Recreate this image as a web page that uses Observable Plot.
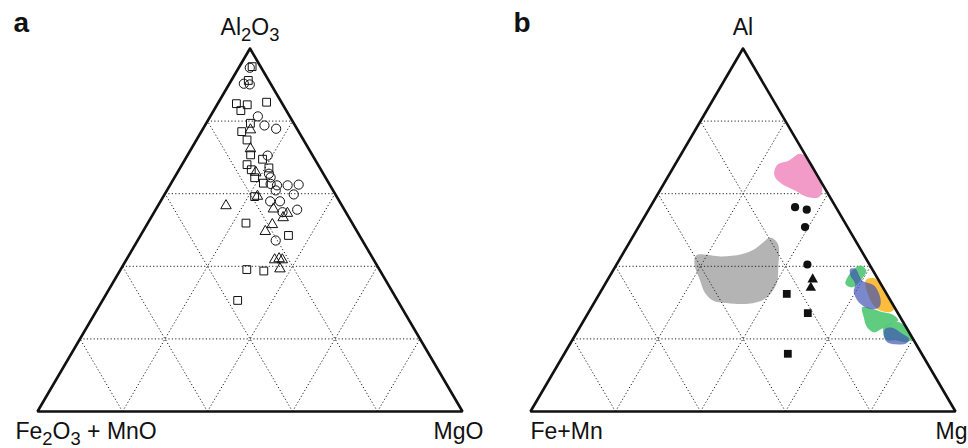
<!DOCTYPE html>
<html><head><meta charset="utf-8">
<script src="https://cdn.jsdelivr.net/npm/d3@7"></script>
<script src="https://cdn.jsdelivr.net/npm/@observablehq/plot@0.6"></script>
<style>
body{margin:0;background:#fff;}
#chart svg{display:block;font-family:"Liberation Sans",Arial,Helvetica,sans-serif;}
</style>
</head><body><div id="chart"></div>
<script>
// ---------- Panel a: [Al2O3, MgO] in normalized %, Fe2O3+MnO = 100 − Al2O3 − MgO
const aCircles = [[94.7,2.6],[90.3,3.4],[90.1,4.9],[81.3,11.2],[78.8,14.0],[77.9,17.2],[70.5,18.9],
  [65.5,21.7],[64.5,22.6],[62.7,23.5],[62.3,25.2],[62.3,27.7],[62.5,30.2],[60.9,25.6],[59.8,30.4],
  [57.9,25.8],[57.9,28.1],[55.6,33.3],[54.9,30.2],[47.1,32.5]];
const aSquares = [[95.0,3.0],[91.2,4.0],[84.8,4.4],[82.9,6.4],[84.5,7.1],[85.2,11.3],[79.4,10.4],
  [77.1,9.5],[74.8,11.9],[70.7,14.8],[69.5,18.2],[68.0,15.3],[66.6,17.0],[67.1,20.9],[64.4,18.9],
  [62.9,21.7],[59.2,21.5],[51.9,23.1],[48.5,34.8],[39.1,29.7],[38.7,33.9],[30.6,31.8]];
const aTriangles = [[77.6,11.3],[72.4,13.9],[65.9,18.4],[59.3,22.1],[56.7,16.0],[55.8,27.6],[54.6,31.5],
  [53.4,31.1],[51.5,29.5],[49.6,28.8],[41.8,34.9],[42.1,35.8],[41.8,36.7],[39.3,37.4]];

// ---------- Panel b: [Al, Mg] in %, Fe+Mn = 100 − Al − Mg
const bCircles = [[56.3,34.1],[55.6,37.2],[50.8,39.2],[40.5,44.9]];
const bTriangles = [[36.4,48.2],[34.1,48.9]];
const bSquares = [[32.4,44.1],[27.1,51.7],[15.9,52.6]];

// Compositional fields of panel b (outline vertices, [Al, Mg])
const grayField = [[43.0,17.5],[42.7,23.6],[43.3,28.0],[44.8,30.4],[46.6,31.5],[47.9,32.4],[46.2,35.1],
  [39.8,38.4],[35.2,40.3],[31.1,39.7],[29.7,36.4],[29.9,31.2],[30.6,27.6],[32.8,24.6],[36.4,21.6],[40.4,18.4]];
const pinkField = [[66.4,24.2],[68.2,24.2],[69.1,26.2],[71.0,27.9],[69.6,30.6],[64.5,35.6],[60.9,38.2],
  [59.0,38.3],[59.0,35.9],[60.9,31.8],[62.7,27.8],[64.5,25.3]];
const orangeField = [[36.1,60.8],[36.8,62.4],[35.6,64.2],[32.4,67.3],[28.3,71.4],[27.4,71.0],[27.8,68.4],[29.7,65.6]];
const greenFieldUpper = [[35.2,56.5],[38.8,56.3],[40.2,57.5],[38.8,59.6],[36.6,59.7],[34.2,58.6]];
const greenFieldMiddle = [[28.7,63.7],[28.3,66.3],[27.4,69.0],[26.7,71.8],[25.1,74.0],[24.3,73.0],[22.8,71.3],
  [21.8,69.9],[23.2,67.6],[26.0,65.4]];
const greenFieldLower = [[23.2,71.5],[24.6,74.4],[22.3,77.9],[20.0,79.8],[19.1,78.7],[19.6,76.1],[19.6,74.1],[20.9,72.7]];
const blueFieldUpper = [[39.3,55.6],[39.3,56.8],[36.1,60.0],[34.7,63.5],[31.1,66.8],[28.7,67.7],[28.3,65.5],
  [30.1,62.2],[32.9,59.6],[35.2,58.8],[37.5,56.5]];
const blueFieldLower = [[22.8,72.1],[23.1,73.6],[21.4,76.8],[20.0,79.1],[18.7,79.0],[18.5,76.7],[19.1,74.4],[20.9,72.7]];

// ---------- Text
const panelLetters = ["a", "b"];
const cornerLabelsA = ["Al_2O_3", "Fe_2O_3 + MnO", "MgO"];
const cornerLabelsB = ["Al", "Fe+Mn", "Mg"];
const gridSteps = [20, 40, 60, 80];

// ---------- Ternary helpers (x = Mg + Al/2, y = Al), panel b shifted right
const OFFSET = {a: 0, b: 1.16};
const pt = (panel, al, mg) => ({x: OFFSET[panel] + (mg + al / 2) / 100, y: al / 100});
const pts = (panel, arr) => arr.map(([al, mg]) => pt(panel, al, mg));

function outline(panel) {
  return [pt(panel,100,0), pt(panel,0,0), pt(panel,0,100), pt(panel,100,0)];
}
function grid(panel) {
  const out = [];
  for (const k of gridSteps) {
    let p1 = pt(panel, k, 0), p2 = pt(panel, k, 100 - k);          // Al = k
    out.push({x1: p1.x, y1: p1.y, x2: p2.x, y2: p2.y});
    p1 = pt(panel, 0, k); p2 = pt(panel, 100 - k, k);              // Mg = k
    out.push({x1: p1.x, y1: p1.y, x2: p2.x, y2: p2.y});
    p1 = pt(panel, 0, 100 - k); p2 = pt(panel, 100 - k, 0);        // Fe = k
    out.push({x1: p1.x, y1: p1.y, x2: p2.x, y2: p2.y});
  }
  return out;
}
const gridData = [...grid("a"), ...grid("b")];

const fieldStyle = (data, fill, opacity = 1) =>
  Plot.line(pts("b", data), {x: "x", y: "y", curve: "catmull-rom-closed", fill, fillOpacity: opacity, stroke: "none"});

const lbl = (panel, i, al, mg, texts) => [{...pt(panel, al, mg), t: texts[i]}];
const fontSize = 23;

const svg = Plot.plot({
  width: 968, height: 448,
  marginLeft: 37, marginRight: 13, marginTop: 48, marginBottom: 37,
  x: {domain: [0, 2.16], axis: null},
  y: {domain: [0, 1], axis: null},
  marks: [
    fieldStyle(grayField, "#b4b4b4"),
    Plot.link(gridData, {x1: "x1", y1: "y1", x2: "x2", y2: "y2", stroke: "#222", strokeWidth: 1, strokeDasharray: "1.2,2.2"}),
    fieldStyle(pinkField, "#f29bc8"),
    fieldStyle(orangeField, "#fcbd3e"),
    fieldStyle(greenFieldMiddle, "#4fc672", 0.9),
    fieldStyle(greenFieldUpper, "#4fc672", 0.9),
    fieldStyle(greenFieldLower, "#4fc672", 0.9),
    fieldStyle(blueFieldUpper, "#3d4fb4", 0.68),
    fieldStyle(blueFieldLower, "#3d4fb4", 0.68),
    // panel a markers (hollow)
    Plot.dot(pts("a", aCircles), {x: "x", y: "y", symbol: "circle", r: 4.6, fill: "none", stroke: "#111", strokeWidth: 1}),
    Plot.dot(pts("a", aSquares), {x: "x", y: "y", symbol: "square", r: 4.4, fill: "none", stroke: "#111", strokeWidth: 1}),
    Plot.dot(pts("a", aTriangles), {x: "x", y: "y", symbol: "triangle", r: 3.9, fill: "none", stroke: "#111", strokeWidth: 1}),
    // panel b markers (filled)
    Plot.dot(pts("b", bCircles), {x: "x", y: "y", symbol: "circle", r: 4.1, fill: "#111", stroke: "none"}),
    Plot.dot(pts("b", bSquares), {x: "x", y: "y", symbol: "square", r: 4.4, fill: "#111", stroke: "none"}),
    Plot.dot(pts("b", bTriangles), {x: "x", y: "y", symbol: "triangle", r: 3.9, fill: "#111", stroke: "none"}),
    // outlines
    Plot.line(outline("a"), {x: "x", y: "y", stroke: "#111", strokeWidth: 2.6, strokeLinejoin: "miter"}),
    Plot.line(outline("b"), {x: "x", y: "y", stroke: "#111", strokeWidth: 2.6, strokeLinejoin: "miter"}),
    // corner labels
    Plot.text(lbl("a", 0, 100, 0, cornerLabelsA), {x: "x", y: "y", text: "t", dy: -21, fontSize, textAnchor: "middle", fill: "#111"}),
    Plot.text(lbl("a", 1, 0, 0, cornerLabelsA), {x: "x", y: "y", text: "t", dy: 20, dx: -22, fontSize, textAnchor: "start", fill: "#111"}),
    Plot.text(lbl("a", 2, 0, 100, cornerLabelsA), {x: "x", y: "y", text: "t", dy: 20, dx: -4, fontSize, textAnchor: "middle", fill: "#111"}),
    Plot.text(lbl("b", 0, 100, 0, cornerLabelsB), {x: "x", y: "y", text: "t", dy: -21, fontSize, textAnchor: "middle", fill: "#111"}),
    Plot.text(lbl("b", 1, 0, 0, cornerLabelsB), {x: "x", y: "y", text: "t", dy: 20, dx: 0, fontSize, textAnchor: "start", fill: "#111"}),
    Plot.text(lbl("b", 2, 0, 100, cornerLabelsB), {x: "x", y: "y", text: "t", dy: 20, dx: 12, fontSize, textAnchor: "end", fill: "#111"}),
    // panel letters
    Plot.text([{...pt("a", 0, 0), t: panelLetters[0]}], {x: "x", y: 1, text: "t", dx: -24, dy: -25, fontSize: 28, fontWeight: "bold", textAnchor: "start", fill: "#111"}),
    Plot.text([{...pt("b", 0, 0), t: panelLetters[1]}], {x: "x", y: 1, text: "t", dx: -17, dy: -25, fontSize: 28, fontWeight: "bold", textAnchor: "start", fill: "#111"})
  ]
});

// subscripts: "_d" -> lowered smaller digit
d3.select(svg).selectAll("text").each(function () {
  const t = this.textContent;
  if (!t.includes("_")) return;
  const sel = d3.select(this);
  sel.text(null);
  const parts = t.split(/(_\d)/).filter(s => s);
  let low = false;
  for (const p of parts) {
    if (p.startsWith("_")) {
      sel.append("tspan").attr("dy", low ? null : 6).attr("font-size", "80%").text(p.slice(1));
      low = true;
    } else {
      sel.append("tspan").attr("dy", low ? -6 : null).text(p);
      low = false;
    }
  }
});

document.getElementById("chart").append(svg);
</script>
</body></html>
